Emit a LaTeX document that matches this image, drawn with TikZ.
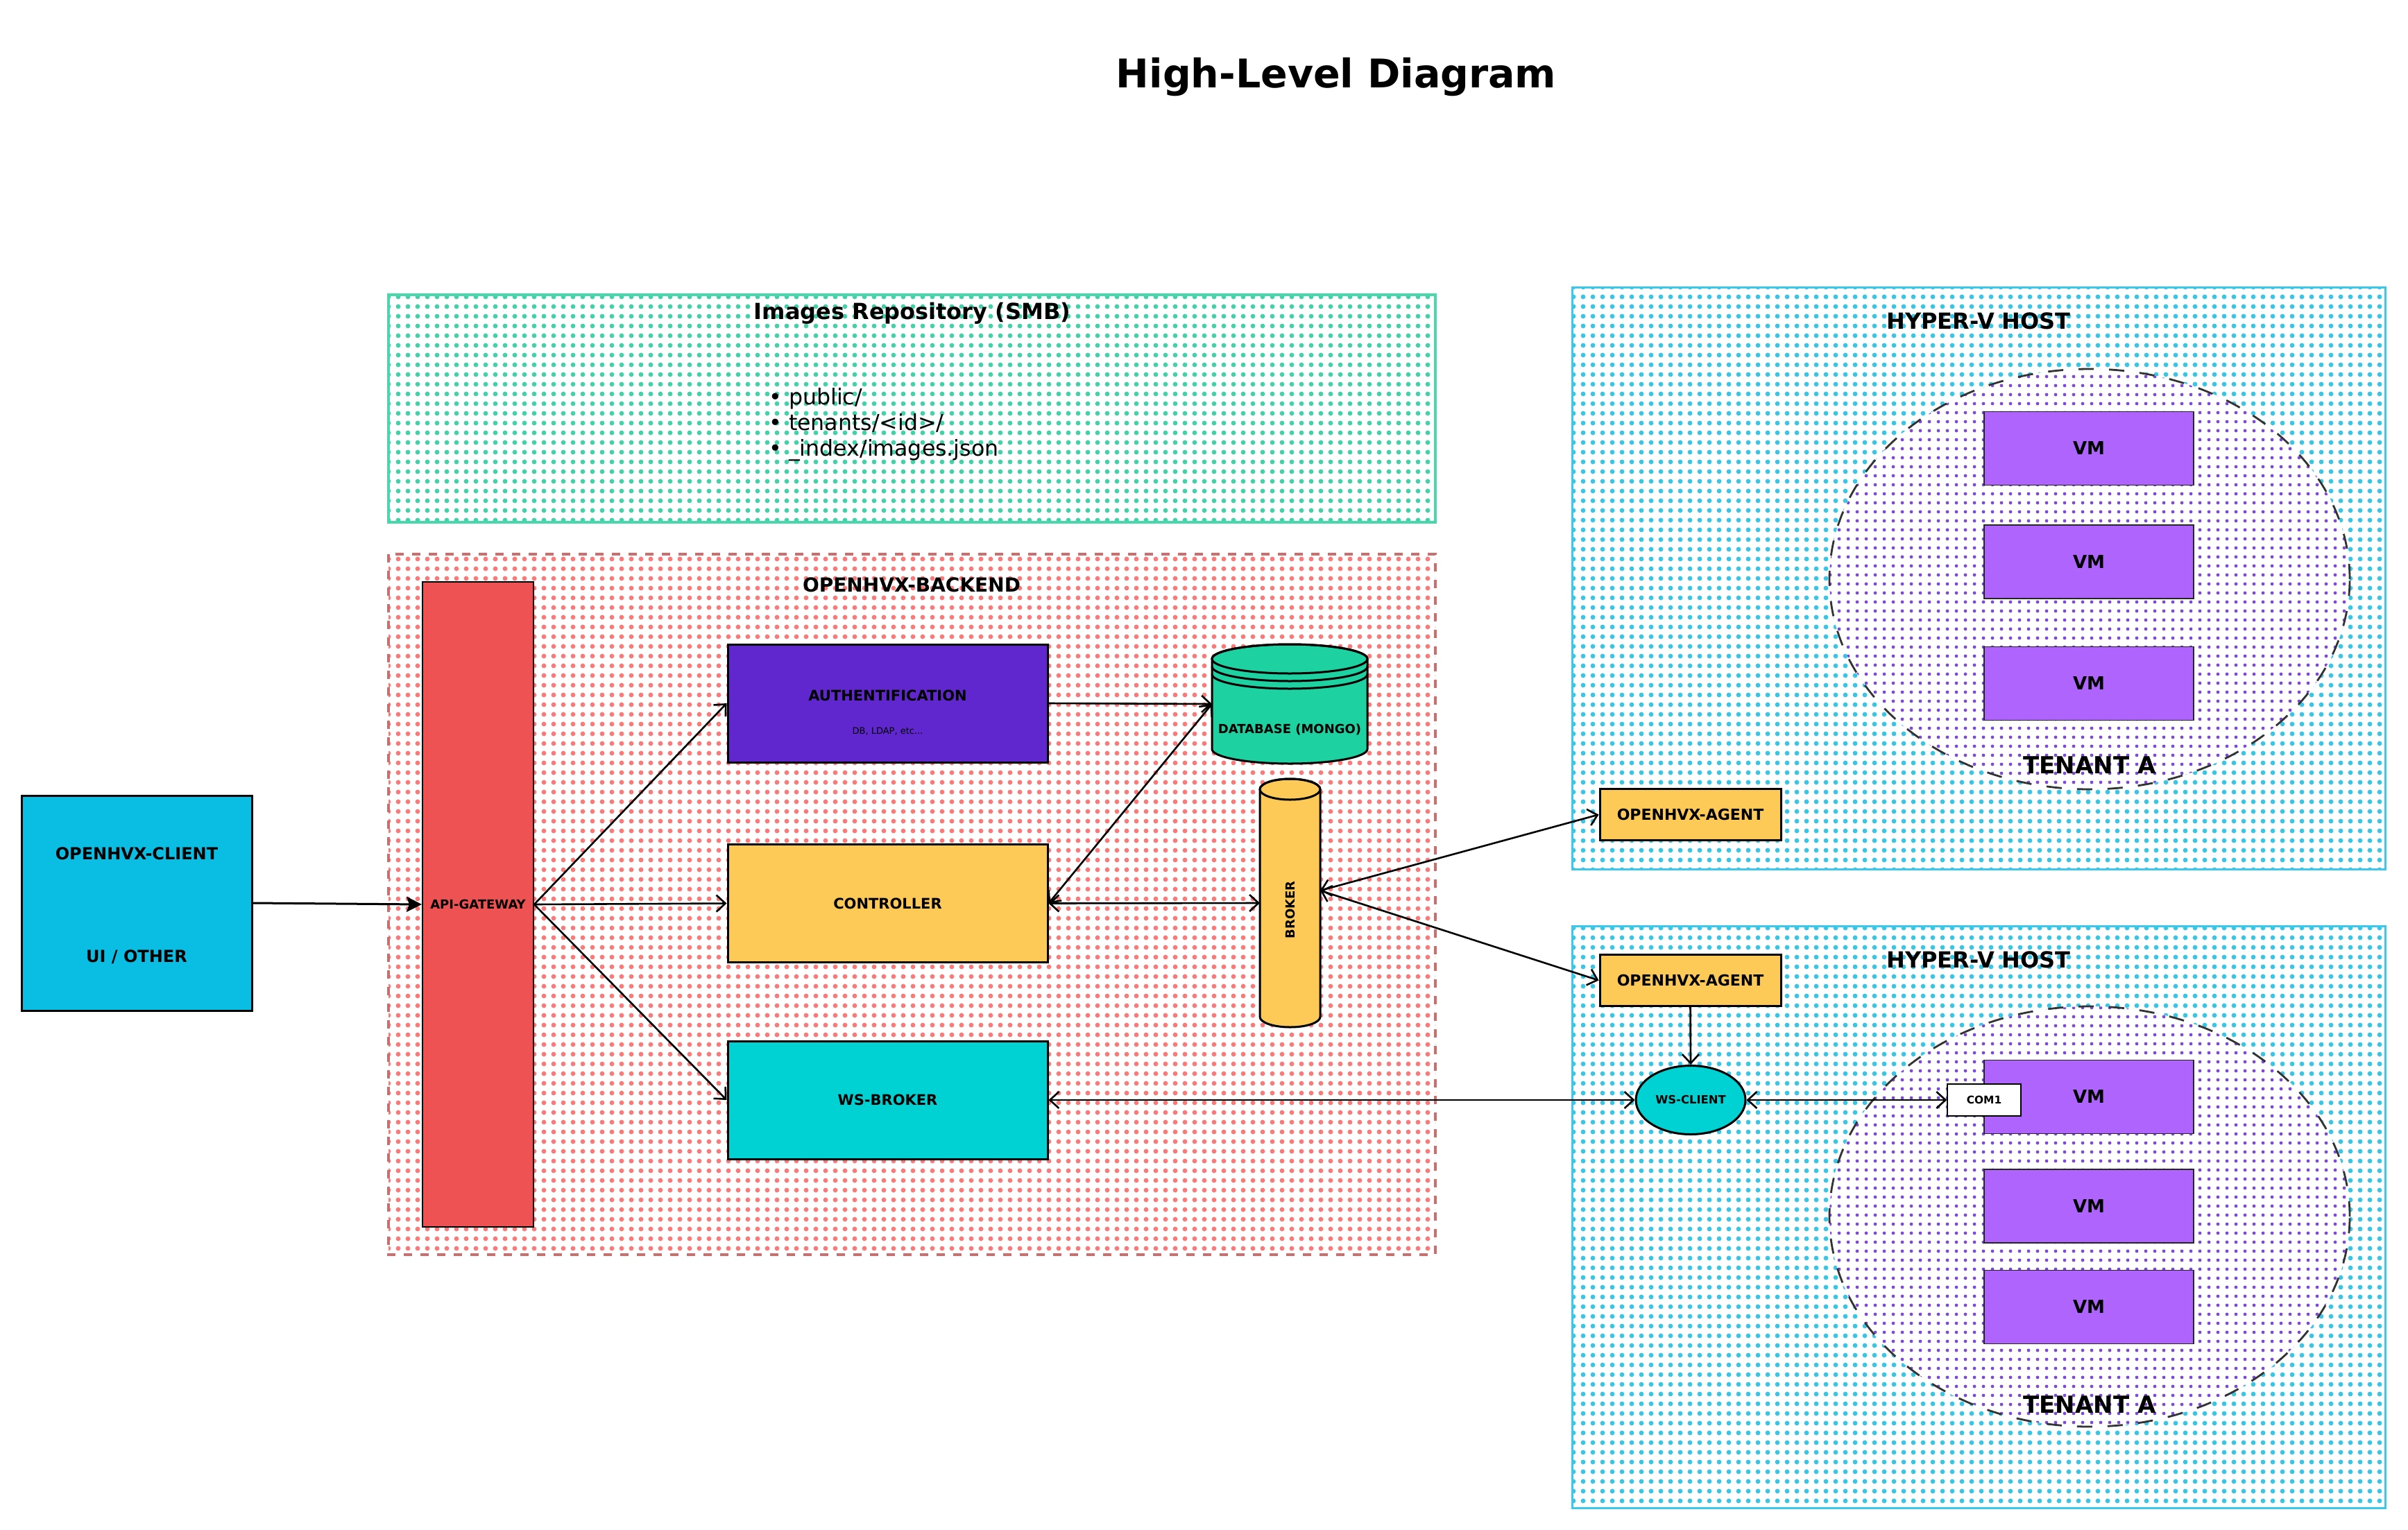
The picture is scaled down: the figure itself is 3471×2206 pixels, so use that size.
\documentclass[tikz,border=0pt]{standalone}
\usepackage{fontspec}
\setmainfont{DejaVu Sans}
\usetikzlibrary{arrows.meta,patterns.meta,shapes.geometric}

\definecolor{cClient}{HTML}{0ABDE3}
\definecolor{cGate}{HTML}{EE5253}
\definecolor{cAuth}{HTML}{5F27CD}
\definecolor{cYel}{HTML}{FECA57}
\definecolor{cTeal}{HTML}{00D2D3}
\definecolor{cDB}{HTML}{1DD1A1}
\definecolor{cVM}{HTML}{AF64FD}
\definecolor{dotCyan}{HTML}{36C6E8}
\definecolor{dotPurple}{HTML}{7E4AD8}
\definecolor{dotRed}{HTML}{FF7878}
\definecolor{dotGreen}{HTML}{40D2A8}
\definecolor{lineRed}{HTML}{CC6E6E}
\definecolor{lineGreen}{HTML}{48D8AC}
\definecolor{lineCyan}{HTML}{3CC8EA}

\newcommand{\fsz}[1]{\fontsize{#1pt}{#1pt}\selectfont}

\tikzset{
  >={Straight Barb[length=6.5pt,width=12pt]},
  box/.style={draw=black, line width=1.5pt, inner sep=0pt, font=\bfseries},
  vmbox/.style={draw=black!85, line width=0.7pt, fill=cVM, inner sep=0pt,
    minimum width=151pt, minimum height=53pt, font=\bfseries\fsz{13}},
  agentbox/.style={box, fill=cYel, minimum width=130.5pt, minimum height=37pt,
    font=\bfseries\fsz{11}},
  midbox/.style={box, minimum width=230.5pt, minimum height=85pt,
    font=\bfseries\fsz{10.5}},
  ghost/.style={inner sep=0pt, outer sep=0pt},
  lbl/.style={inner sep=0pt, font=\bfseries\fsz{#1}},
  arr/.style={line width=1.3pt},
  host/.style={preaction={fill=white}, pattern={Dots[distance=7pt,radius=1.7pt]},
    pattern color=dotCyan},
}

\begin{document}
\begin{tikzpicture}[x=0.5pt,y=-0.5pt]
\useasboundingbox (0,0) rectangle (3471,2206);
\fill[white] (0,0) rectangle (3471,2206);

% title
\node[lbl=28.5] (title) at (1926,111) {High-Level Diagram};

% images repository
\path[preaction={fill=white}, pattern={Dots[distance=7pt,radius=1.7pt]}, pattern color=dotGreen]
  (560,425) rectangle (2069,753);
\draw[lineGreen, line width=2pt] (560,425) rectangle (2069,753);
\node[lbl=16] (repoT) at (1315,452) {Images Repository (SMB)};
\node[anchor=west, inner sep=0pt, align=left, font={\fontsize{15.8pt}{18.4pt}\selectfont}]
  (repoL) at (1108,612) {• public/\\• tenants/<id>/\\• \_index/images.json};

% backend
\path[preaction={fill=white}, pattern={Dots[distance=7pt,radius=1.7pt]}, pattern color=dotRed]
  (560,799) rectangle (2069,1809);
\draw[lineRed, line width=1.6pt, dash pattern=on 6pt off 6pt] (560,799) rectangle (2069,1809);
\node[lbl=14] (backT) at (1314,843) {OPENHVX-BACKEND};

% hyper-v hosts
\path[host] (2266,414) rectangle (3438,1253);
\draw[lineCyan, line width=1.5pt] (2266,414) rectangle (3438,1253);
\path[host] (2266,1335) rectangle (3438,2174);
\draw[lineCyan, line width=1.5pt] (2266,1335) rectangle (3438,2174);
\node[lbl=16] (host1T) at (2852,463) {HYPER-V HOST};
\node[lbl=16] (host2T) at (2852,1384) {HYPER-V HOST};

% tenants
\path[preaction={fill=white}, pattern={Dots[distance=6.5pt,radius=1.3pt]}, pattern color=dotPurple]
  (3012,835) ellipse[x radius=187.5pt, y radius=151.5pt];
\draw[black!80, line width=1.4pt, dash pattern=on 11pt off 11pt]
  (3012,835) ellipse[x radius=187.5pt, y radius=151.5pt];
\path[preaction={fill=white}, pattern={Dots[distance=6.5pt,radius=1.3pt]}, pattern color=dotPurple]
  (3012,1754) ellipse[x radius=187.5pt, y radius=151.5pt];
\draw[black!80, line width=1.4pt, dash pattern=on 11pt off 11pt]
  (3012,1754) ellipse[x radius=187.5pt, y radius=151.5pt];
\node[lbl=17] (ten1T) at (3012,1103) {TENANT A};
\node[lbl=17] (ten2T) at (3012,2025) {TENANT A};

% VMs
\node[vmbox] (vm11) at (3011,646.5) {VM};
\node[vmbox] (vm12) at (3011,810) {VM};
\node[vmbox] (vm13) at (3011,985.5) {VM};
\node[vmbox] (vm21) at (3011,1581.5) {VM};
\node[vmbox] (vm22) at (3011,1739) {VM};
\node[vmbox] (vm23) at (3011,1884.5) {VM};

% client
\node[box, fill=cClient, minimum width=166pt, minimum height=155pt] (client) at (197,1302) {};
\node[lbl=12] (clientT1) at (197,1231) {OPENHVX-CLIENT};
\node[lbl=12] (clientT2) at (197,1380) {UI / OTHER};

% gateway
\node[box, line width=1pt, fill=cGate, minimum width=80pt, minimum height=465pt,
  font=\bfseries\fsz{9}] (gw) at (689,1304) {API-GATEWAY};

% middle column
\node[midbox, fill=cAuth] (auth) at (1279.5,1014) {};
\node[lbl=10.5] (authT) at (1279.5,1003) {AUTHENTIFICATION};
\node[inner sep=0pt, font=\fsz{6.5}] (authS) at (1279.5,1055) {DB, LDAP, etc...};
\node[midbox, fill=cYel] (ctrl) at (1279.5,1302.5) {CONTROLLER};
\node[midbox, fill=cTeal] (wsb) at (1279.5,1586) {WS-BROKER};

% database cylinder
\path[fill=cDB, draw=black, line width=1.5pt] (1747,950) -- (1747,1080)
  arc[start angle=180, end angle=360, x radius=56pt, y radius=10.5pt] -- (1971,950)
  arc[start angle=0, end angle=180, x radius=56pt, y radius=10.5pt] -- cycle;
\draw[line width=1.5pt] (1859,950) ellipse[x radius=56pt, y radius=10.5pt];
\draw[line width=1.5pt] (1747,961) arc[start angle=180, end angle=360, x radius=56pt, y radius=10.5pt];
\draw[line width=1.5pt] (1747,972) arc[start angle=180, end angle=360, x radius=56pt, y radius=10.5pt];
\node[ghost, minimum width=112pt, minimum height=86pt] (db) at (1859,1015) {};
\node[lbl=9] (dbT) at (1859,1052) {DATABASE (MONGO)};

% broker cylinder
\path[fill=cYel, draw=black, line width=1.5pt] (1816,1138) -- (1816,1466)
  arc[start angle=180, end angle=360, x radius=21.75pt, y radius=7.5pt] -- (1903,1138)
  arc[start angle=0, end angle=180, x radius=21.75pt, y radius=7.5pt] -- cycle;
\draw[line width=1.5pt] (1859.5,1138) ellipse[x radius=21.75pt, y radius=7.5pt];
\node[ghost, minimum width=43.5pt, minimum height=179pt] (broker) at (1859.5,1302) {};
\node[lbl=9, rotate=90] (brokerT) at (1859.5,1312) {BROKER};

% agents, ws-client, com1
\node[agentbox] (agent1) at (2436.5,1174.5) {OPENHVX-AGENT};
\node[agentbox] (agent2) at (2436.5,1413.5) {OPENHVX-AGENT};
\node[box, ellipse, fill=cTeal, minimum width=79pt, minimum height=49.5pt,
  font=\bfseries\fsz{8.2}] (wsc) at (2437,1586) {WS-CLIENT};
\node[draw=black, line width=0.8pt, fill=white, inner sep=0pt, minimum width=53pt,
  minimum height=23pt, font=\bfseries\fsz{7.7}] (com) at (2860,1586) {COM1};

% connectors
\draw[line width=1.5pt, -{Stealth[length=11pt,width=11pt,inset=2pt]}] (client.east) -- (gw.west);
\draw[arr,->] (gw.east) -- (auth.west);
\draw[arr,->] (gw.east) -- (ctrl.west);
\draw[arr,->] (gw.east) -- (wsb.west);
\draw[arr,->] (auth.east) -- (db.west);
\draw[arr,<->] (ctrl.east) -- (db.west);
\draw[arr,<->] (ctrl.east) -- (broker.west);
\draw[arr,<->] ([yshift=9pt]broker.east) -- (agent1.west);
\draw[arr,<->] ([yshift=9pt]broker.east) -- (agent2.west);
\draw[arr,<->] (wsb.east) -- (wsc.west);
\draw[arr,->] (agent2.south) -- (wsc.north);
\draw[arr,<->] (wsc.east) -- (com.west);
\end{tikzpicture}
\end{document}
